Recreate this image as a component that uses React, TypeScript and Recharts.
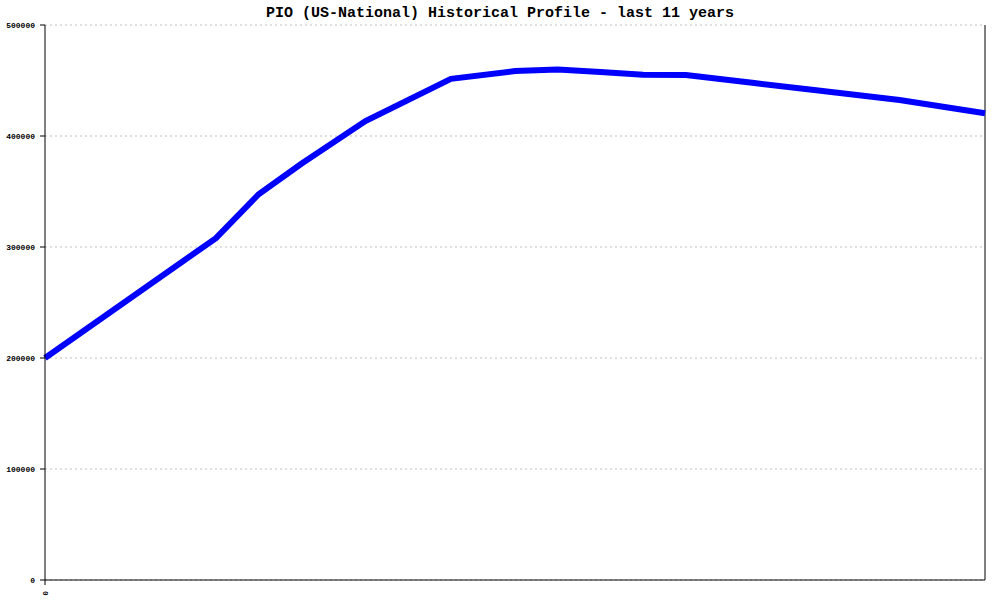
import React from "react";
import {
  LineChart,
  Line,
  XAxis,
  YAxis,
  CartesianGrid,
  ReferenceLine,
} from "recharts";

const TITLE = "PIO (US-National) Historical Profile - last 11 years";

// x = years from start, y = value
const years = [0, 2, 2.5, 3, 3.75, 4.75, 5.5, 6, 6.5, 7, 7.5, 8.3, 9, 10, 11];
const values = [
  200000, 308000, 347500, 375000, 413500, 451500, 458500, 460000, 457700,
  455200, 455000, 447700, 441500, 432400, 420500,
];
const yTicks = [0, 100000, 200000, 300000, 400000, 500000];
const xTicks = [0];

const data = years.map((x, i) => ({ x, v: values[i] }));

const MONO = "'Liberation Mono', 'DejaVu Sans Mono', monospace";

function XTick(props: any) {
  const { x, y, payload } = props;
  return (
    <text
      x={0}
      y={0}
      transform={`translate(${x + 3}, ${y + 4}) rotate(-90)`}
      textAnchor="end"
      fontSize={8}
      fontWeight="bold"
      fontFamily={MONO}
      fill="#000"
    >
      {payload.value}
    </text>
  );
}

export default function App() {
  return (
    <div
      style={{
        position: "absolute",
        left: 0,
        top: 0,
        width: 1000,
        height: 600,
        background: "#fff",
      }}
    >
      <div
        style={{
          position: "absolute",
          left: 0,
          top: 5,
          width: 1000,
          textAlign: "center",
          fontFamily: MONO,
          fontSize: 15,
          fontWeight: "bold",
          color: "#000",
        }}
      >
        {TITLE}
      </div>
      <LineChart
        width={1000}
        height={600}
        data={data}
        margin={{ top: 25, right: 15, bottom: 0, left: 0 }}
      >
        <CartesianGrid
          vertical={false}
          stroke="#c0c0c0"
          strokeDasharray="2 3"
        />
        <XAxis
          dataKey="x"
          type="number"
          domain={[0, 11]}
          ticks={xTicks}
          height={20}
          stroke="#000"
          tickLine={{ stroke: "#000" }}
          tickSize={5}
          tick={<XTick />}
        />
        <YAxis
          domain={[0, 500000]}
          ticks={yTicks}
          width={45}
          stroke="#000"
          tickSize={5}
          tickMargin={5}
          tick={{
            fontSize: 8,
            fontWeight: "bold",
            fontFamily: MONO,
            fill: "#000",
          }}
        />
        <ReferenceLine x={11} stroke="#000" />
        <Line
          type="linear"
          dataKey="v"
          stroke="#0000ff"
          strokeWidth={6}
          dot={false}
          isAnimationActive={false}
        />
      </LineChart>
    </div>
  );
}
